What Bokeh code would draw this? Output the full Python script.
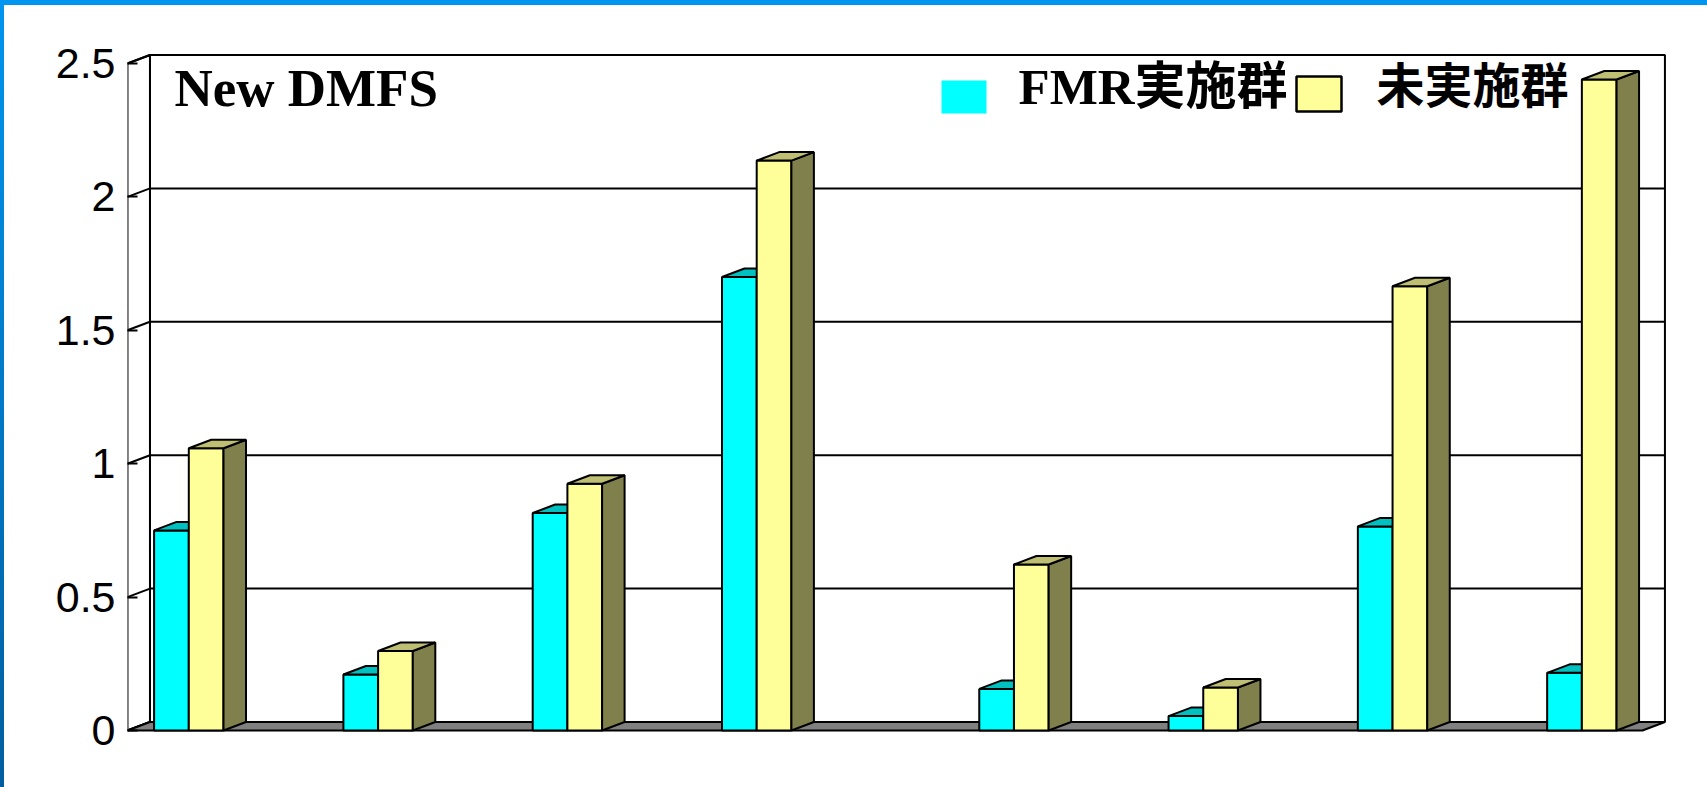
from bokeh.plotting import figure
from bokeh.models import Range1d, FixedTicker, Label
from bokeh.layouts import column
from bokeh.embed import file_html
from bokeh.resources import INLINE

# ---------------- data ----------------
categories = ["1", "2", "3", "4", "5", "6", "7", "8"]
fmr_values = [0.75, 0.21, 0.815, 1.70, 0.156, 0.054, 0.765, 0.216]
untreated_values = [1.058, 0.298, 0.925, 2.136, 0.622, 0.161, 1.665, 2.44]
tick_values = [0.0, 0.5, 1.0, 1.5, 2.0, 2.5]
tick_labels = ["0", "0.5", "1", "1.5", "2", "2.5"]
series_names = ["FMR実施群", "未実施群"]
title_text = "New DMFS"

# ---------------- layout ----------------
OX, OY = 4, 5            # blue band widths (page offset of figure)
FIG_W, FIG_H = 1703, 782
LEFT = 123
X0_PX, PX_PER_X = 188.3, 189.3
Y0_PX, PX_PER_Y = 730.0, 266.8


def X(px):
    return (px - X0_PX) / PX_PER_X


def Y(py):
    return (Y0_PX - py) / PX_PER_Y


GAP = 0.359
DX = 22.5 / PX_PER_X
DY = 8.5 / PX_PER_Y
BW = 34.7 / PX_PER_X

CYAN, CYAN_TOP = "#00FFFF", "#00C0C0"
YEL, YEL_TOP, YEL_SIDE = "#FFFF99", "#BFBF73", "#80804C"
LW = 2

n = len(categories)
pos = [i + (GAP if i >= 4 else 0.0) for i in range(n)]
XL = pos[0] - 0.324
XR = pos[-1] + 0.32
YMAX = tick_values[-1]

p = figure(
    frame_width=FIG_W - LEFT, frame_height=FIG_H,
    x_range=Range1d(X(OX + LEFT), X(OX + FIG_W)),
    y_range=Range1d(Y(OY + FIG_H), Y(OY)),
    output_backend="svg", toolbar_location=None, x_axis_location=None,
    min_border=0, min_border_left=LEFT,
    background_fill_color="white", border_fill_color="white",
    outline_line_color=None,
)
p.xgrid.visible = False
p.ygrid.visible = False

ax = p.yaxis[0]
ax.ticker = FixedTicker(ticks=tick_values)
ax.major_label_overrides = {float(v): s for v, s in zip(tick_values, tick_labels)}
ax.axis_line_color = None
ax.major_tick_in = 10
ax.major_tick_out = 0
ax.minor_tick_in = 0
ax.minor_tick_out = 0
ax.major_tick_line_color = "black"
ax.major_tick_line_width = 2
ax.major_label_standoff = 12
ax.major_label_text_font = "Liberation Sans"
ax.major_label_text_font_size = "43px"
ax.major_label_text_color = "black"

# walls
p.quad(left=[XL + DX], right=[XR + DX], bottom=[DY], top=[YMAX + DY],
       fill_color="white", line_color="black", line_width=LW)
p.patch([XL, XL + DX, XL + DX, XL], [0, DY, YMAX + DY, YMAX],
        fill_color="white", line_color="black", line_width=LW)

inner = tick_values[1:-1]
p.segment(x0=[XL + DX] * len(inner), y0=[t + DY for t in inner],
          x1=[XR + DX] * len(inner), y1=[t + DY for t in inner],
          line_color="black", line_width=LW)
p.segment(x0=[XL] * len(tick_values), y0=tick_values,
          x1=[XL + DX] * len(tick_values), y1=[t + DY for t in tick_values],
          line_color="black", line_width=LW)

# floor
p.patch([XL, XR, XR + DX, XL + DX], [0, 0, DY, DY],
        fill_color="#808080", line_color="black", line_width=LW)

# bars
c_left = [x - BW for x in pos]
p.quad(left=c_left, right=pos, bottom=[0] * n, top=fmr_values,
       fill_color=CYAN, line_color="black", line_width=LW)
p.patches(
    xs=[[l, r, r + DX, l + DX] for l, r in zip(c_left, pos)],
    ys=[[v, v, v + DY, v + DY] for v in fmr_values],
    fill_color=CYAN_TOP, line_color="black", line_width=LW)

y_right = [x + BW for x in pos]
p.quad(left=pos, right=y_right, bottom=[0] * n, top=untreated_values,
       fill_color=YEL, line_color="black", line_width=LW)
p.patches(
    xs=[[r, r + DX, r + DX, r] for r in y_right],
    ys=[[0, DY, v + DY, v] for v in untreated_values],
    fill_color=YEL_SIDE, line_color="black", line_width=LW)
p.patches(
    xs=[[l, r, r + DX, l + DX] for l, r in zip(pos, y_right)],
    ys=[[v, v, v + DY, v + DY] for v in untreated_values],
    fill_color=YEL_TOP, line_color="black", line_width=LW)

# title inside plot
p.add_layout(Label(x=X(174), y=Y(87), text=title_text,
                   text_font="Liberation Serif", text_font_style="bold",
                   text_font_size="53px", text_color="black",
                   text_baseline="alphabetic"))

# legend
p.quad(left=[X(941)], right=[X(986)], top=[Y(80)], bottom=[Y(113)],
       fill_color=CYAN, line_color=None)
p.quad(left=[X(1296)], right=[X(1341)], top=[Y(76)], bottom=[Y(111)],
       fill_color=YEL, line_color="black", line_width=2.5)
p.add_layout(Label(x=X(1018), y=Y(86), text=series_names[0],
                   text_font="Liberation Serif, Noto Sans CJK JP",
                   text_font_style="bold", text_font_size="51px",
                   text_color="black", text_baseline="alphabetic"))
p.add_layout(Label(x=X(1376), y=Y(81), text=series_names[1],
                   text_font="Noto Sans CJK JP",
                   text_font_style="bold", text_font_size="48px",
                   text_color="black", text_baseline="alphabetic"))

layout = column(p, styles={
    "padding-left": f"{OX}px", "padding-top": f"{OY}px",
    "background": (
        f"linear-gradient(#0095EF, #0095EF) left top / 100% {OY}px no-repeat, "
        f"linear-gradient(180deg, #0095EF 0%, #005E9F 100%) left top / {OX}px 100% no-repeat, "
        "white"
    ),
})

open("out.html", "w").write(file_html(layout, INLINE))
